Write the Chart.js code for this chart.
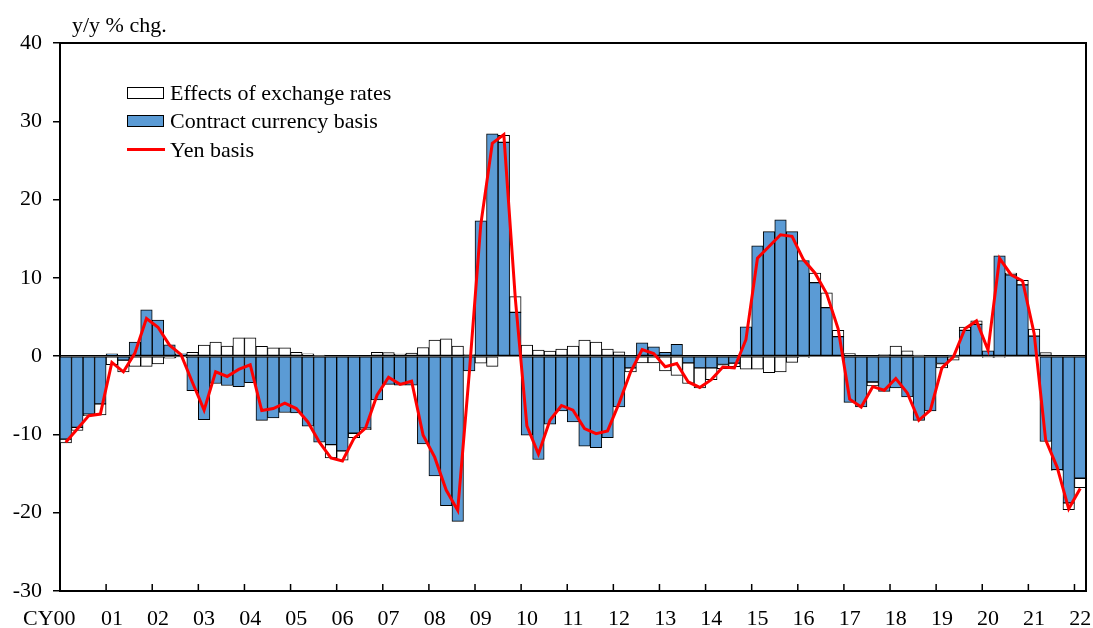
<!DOCTYPE html>
<html>
<head>
<meta charset="utf-8">
<script src="https://cdn.jsdelivr.net/npm/chart.js@4.4.1/dist/chart.umd.min.js"></script>
<style>
  body { margin: 0; background: #fff; }
  #wrap { position: relative; width: 1093px; height: 628px; }
  #unit { position: absolute; left: 72px; top: 14px; font: 22px "Liberation Serif", "Times New Roman", serif; line-height: 22px; }
  #legend { position: absolute; left: 127px; top: 79px; font: 22px "Liberation Serif", "Times New Roman", serif; line-height: 28.3px; }
  .item { display: flex; align-items: center; height: 28.3px; }
  .sw { width: 37px; height: 12px; border: 1px solid #000; box-sizing: border-box; margin-right: 6px; }
  .ln { width: 38px; height: 3px; background: #ff0000; margin-right: 5px; }
</style>
</head>
<body>
<div id="wrap">
  <canvas id="chart" width="1093" height="628"></canvas>
  <div id="unit">y/y % chg.</div>
  <div id="legend">
    <div class="item"><span class="sw" style="background:#fff"></span>Effects of exchange rates</div>
    <div class="item"><span class="sw" style="background:#5b9bd5"></span>Contract currency basis</div>
    <div class="item"><span class="ln"></span>Yen basis</div>
  </div>
</div>
<script>
// ===== Export prices: contract currency vs yen basis (quarterly, CY2000Q1 - 2022Q1) =====

const years = ["00","01","02","03","04","05","06","07","08","09","10","11",
  "12","13","14","15","16","17","18","19","20","21","22"];
const tickLabels = ["CY00      ","01","02","03","04","05","06","07","08","09","10","11",
  "12","13","14","15","16","17","18","19","20","21","22"];

// contract currency basis (blue bars)
const contractBasis = [
  -10.6, -9.1, -7.4, -6.1,
  0.3, -0.5, 1.8, 5.9,
  4.6, 1.45, 0.3, -4.4,
  -8.1, -3.5, -3.75, -3.9,
  -3.4, -8.2, -7.9, -7.2,
  -7.25, -8.95, -11.0, -11.3,
  -12.1, -9.85, -9.2, -5.6,
  -3.6, -3.7, -3.7, -11.2,
  -15.3, -19.1, -21.1, -1.9,
  17.3, 28.4, 27.3, 5.6,
  -10.1, -13.2, -8.7, -7.0,
  -8.4, -11.5, -11.7, -10.4,
  -6.5, -1.5, 1.7, 1.2,
  0.5, 1.5, -0.85, -1.5,
  -1.5, -1.07, -0.9, 3.75,
  14.1, 15.9, 17.4, 15.9,
  12.2, 9.4, 6.2, 2.5,
  -5.9, -6.5, -3.3, -4.5,
  -4.05, -5.2, -8.2, -7.0,
  -0.94, 0.13, 3.3, 4.05,
  0.68, 12.8, 10.4, 9.1,
  2.56, -10.9, -14.5, -18.75,
  -15.6
];

// effects of exchange rates (white bars)
const fxEffects = [
  -0.5, -0.4, -0.2, -1.4,
  -1.1, -1.5, -1.3, -1.3,
  -1.0, -0.25, -0.2, 0.5,
  1.4, 1.8, 1.3, 2.35,
  2.35, 1.24, 1.07, 1.07,
  0.5, 0.3, 0.15, -1.7,
  -1.2, -0.55, -0.2, 0.5,
  0.47, 0.26, 0.4, 1.1,
  2.05, 2.2, 1.28, 0.2,
  -0.9, -1.3, 0.9, 2.0,
  1.4, 0.77, 0.66, 0.9,
  1.3, 2.05, 1.8, 0.9,
  0.55, -0.5, -0.85, -0.86,
  -1.88, -2.45, -2.65, -2.55,
  -1.5, -0.53, -0.45, -1.66,
  -1.66, -2.1, -2.0, -0.8,
  -0.2, 1.2, 1.9, 0.8,
  0.34, 0.0, -0.5, 0.2,
  1.3, 0.68, 0.13, 0.0,
  -0.56, -0.5, 0.4, 0.45,
  -0.17, -0.17, 0.2, 0.6,
  0.9, 0.47, -0.1, -0.85,
  -1.2
];

// yen basis (red line)
const yenBasis = [
  -11.0, -9.3, -7.6, -7.4,
  -0.8, -2.0, 0.4, 4.8,
  3.7, 1.4, 0.2, -3.4,
  -6.9, -2.0, -2.6, -1.7,
  -1.1, -6.95, -6.7, -6.0,
  -6.7, -8.4, -11.0, -13.0,
  -13.4, -10.5, -9.2, -5.0,
  -2.7, -3.6, -3.2, -10.1,
  -12.9, -17.1, -19.7, -2.2,
  16.8, 27.2, 28.3, 7.3,
  -8.9, -12.5, -8.2, -6.3,
  -6.9, -9.25, -9.9, -9.55,
  -6.0, -2.0, 0.85, 0.34,
  -1.36, -0.94, -3.3, -4.0,
  -3.0, -1.4, -1.5, 2.1,
  12.5, 14.0, 15.5, 15.3,
  12.3, 10.6, 8.0, 3.5,
  -5.5, -6.5, -3.9, -4.35,
  -2.86, -4.7, -8.2, -6.9,
  -1.5, -0.1, 3.5, 4.5,
  0.77, 12.5, 10.4, 9.6,
  2.9, -10.7, -14.2, -19.5,
  -16.9
];

const quarters = [];
years.forEach(function (y, i) {
  const n = i === years.length - 1 ? 1 : 4;
  for (let q = 1; q <= n; q++) quarters.push(y + "Q" + q);
});

Chart.defaults.font.family = '"Liberation Serif", "Times New Roman", serif';
Chart.defaults.font.size = 22;
Chart.defaults.color = "#000";

// frame on top/right + year ticks pointing into the plot
const framePlugin = {
  id: "frame",
  afterDraw(chart) {
    const { ctx, chartArea: a, scales } = chart;
    const x = scales.x;
    ctx.save();
    ctx.strokeStyle = "#000";
    ctx.lineWidth = 2;
    ctx.beginPath();
    ctx.moveTo(a.left, a.top);
    ctx.lineTo(a.right, a.top);
    ctx.lineTo(a.right, a.bottom);
    ctx.stroke();
    ctx.lineWidth = 1.5;
    ctx.beginPath();
    for (let i = 4; i < quarters.length; i += 4) {
      const px = (x.getPixelForValue(i - 1) + x.getPixelForValue(i)) / 2;
      ctx.moveTo(px, a.bottom);
      ctx.lineTo(px, a.bottom - 7);
    }
    ctx.stroke();
    ctx.restore();
  }
};

new Chart(document.getElementById("chart").getContext("2d"), {
  type: "bar",
  data: {
    labels: quarters,
    datasets: [
      {
        type: "line",
        label: "Yen basis",
        data: yenBasis,
        borderColor: "#ff0000",
        borderWidth: 3,
        pointRadius: 0,
        tension: 0,
        order: 0
      },
      {
        label: "Contract currency basis",
        data: contractBasis,
        backgroundColor: "#5b9bd5",
        borderColor: "#000",
        borderWidth: 1,
        borderSkipped: false,
        barPercentage: 1,
        categoryPercentage: 1,
        order: 1
      },
      {
        label: "Effects of exchange rates",
        data: fxEffects,
        backgroundColor: "#fff",
        borderColor: "#000",
        borderWidth: 1,
        borderSkipped: false,
        barPercentage: 1,
        categoryPercentage: 1,
        order: 2
      }
    ]
  },
  options: {
    responsive: false,
    animation: false,
    layout: { padding: { left: 0, right: 7, top: 43, bottom: 0 } },
    plugins: {
      legend: { display: false },
      tooltip: { enabled: false }
    },
    scales: {
      x: {
        stacked: true,
        grid: { display: false, drawTicks: false },
        border: { display: true, color: "#000", width: 2 },
        ticks: {
          autoSkip: false,
          maxRotation: 0,
          minRotation: 0,
          padding: 0,
          font: { lineHeight: "56px" },
          callback: function (v, i) {
            return i % 4 === 0 ? tickLabels[i / 4] : "";
          }
        },
        afterFit: function (s) { s.height = 37; }
      },
      y: {
        stacked: true,
        min: -30,
        max: 40,
        ticks: { stepSize: 10, padding: 11 },
        grid: {
          drawOnChartArea: true,
          color: function (c) { return c.tick && c.tick.value === 0 ? "#000" : "rgba(0,0,0,0)"; },
          lineWidth: 1.5,
          tickColor: "#000",
          tickWidth: 1.5,
          tickLength: 7
        },
        border: { display: true, color: "#000", width: 2 },
        afterFit: function (s) { s.width = 60; }
      }
    }
  },
  plugins: [framePlugin]
});
</script>
</body>
</html>
